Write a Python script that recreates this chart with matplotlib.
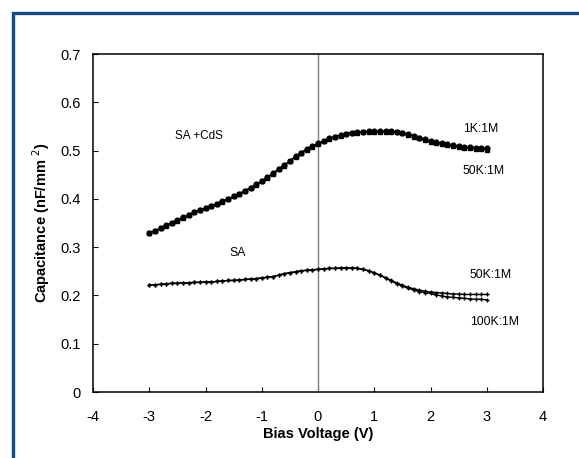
import numpy as np
import matplotlib
matplotlib.use('Agg')
from matplotlib import pyplot as plt
from matplotlib.patches import Rectangle

plt.rcParams['font.family'] = ['Liberation Sans', 'DejaVu Sans']

# bias voltage, -3 V to 3 V in 0.1 V steps
bias = [round(-3.0 + 0.1 * i, 1) for i in range(61)]

# SA+CdS, 1K:1M
cds_1k = [0.330, 0.334, 0.339, 0.345, 0.350, 0.356, 0.362, 0.367, 0.372, 0.377,
          0.381, 0.385, 0.390, 0.395, 0.400, 0.405, 0.411, 0.417, 0.423, 0.430,
          0.437, 0.445, 0.453, 0.462, 0.470, 0.479, 0.488, 0.496, 0.503, 0.509,
          0.515, 0.520, 0.525, 0.529, 0.532, 0.535, 0.537, 0.538, 0.539, 0.540,
          0.540, 0.540, 0.540, 0.540, 0.539, 0.537, 0.534, 0.531, 0.527, 0.523,
          0.520, 0.517, 0.515, 0.513, 0.511, 0.509, 0.508, 0.507, 0.506, 0.506,
          0.505]
# SA+CdS, 50K:1M
cds_50k = [0.329, 0.334, 0.339, 0.344, 0.350, 0.355, 0.361, 0.366, 0.372, 0.376,
           0.381, 0.385, 0.389, 0.394, 0.399, 0.405, 0.410, 0.416, 0.423, 0.429,
           0.436, 0.444, 0.452, 0.461, 0.469, 0.478, 0.487, 0.495, 0.502, 0.508,
           0.514, 0.519, 0.524, 0.528, 0.531, 0.534, 0.536, 0.537, 0.538, 0.539,
           0.539, 0.539, 0.539, 0.539, 0.538, 0.536, 0.533, 0.529, 0.525, 0.521,
           0.518, 0.515, 0.513, 0.511, 0.509, 0.507, 0.506, 0.505, 0.504, 0.503,
           0.502]
# SA, 50K:1M
sa_50k = [0.222, 0.222, 0.223, 0.224, 0.225, 0.225, 0.226, 0.226, 0.227, 0.227,
          0.228, 0.228, 0.229, 0.230, 0.231, 0.231, 0.232, 0.233, 0.234, 0.235,
          0.236, 0.238, 0.239, 0.242, 0.245, 0.247, 0.249, 0.251, 0.252, 0.253,
          0.254, 0.255, 0.256, 0.256, 0.257, 0.257, 0.257, 0.256, 0.254, 0.251,
          0.247, 0.242, 0.237, 0.231, 0.226, 0.221, 0.217, 0.214, 0.211, 0.209,
          0.207, 0.206, 0.205, 0.204, 0.203, 0.203, 0.202, 0.202, 0.202, 0.202,
          0.202]
# SA, 100K:1M
sa_100k = [0.222, 0.222, 0.223, 0.224, 0.225, 0.225, 0.226, 0.226, 0.227, 0.227,
           0.228, 0.228, 0.229, 0.230, 0.231, 0.231, 0.232, 0.233, 0.234, 0.235,
           0.236, 0.238, 0.239, 0.242, 0.245, 0.247, 0.249, 0.251, 0.252, 0.253,
           0.254, 0.255, 0.256, 0.256, 0.257, 0.257, 0.257, 0.256, 0.254, 0.251,
           0.247, 0.242, 0.236, 0.230, 0.224, 0.219, 0.215, 0.211, 0.208, 0.206,
           0.204, 0.201, 0.199, 0.197, 0.196, 0.195, 0.194, 0.193, 0.192, 0.192,
           0.191]

W, H = 579, 458
fig = plt.figure(figsize=(W / 100, H / 100), dpi=100)
# blue frame, right and bottom edges run off the picture
fig.patches.append(Rectangle((13 / W, -0.05), 1.1, 1.05 - 12.5 / H,
                             transform=fig.transFigure, fill=False,
                             edgecolor='#1a4a85', linewidth=2.4))
ax = fig.add_axes([93 / W, (H - 392) / H, 450 / W, 338 / H])

ax.axvline(0, color='#808080', linewidth=1)
ax.plot(bias, cds_1k, color='black', marker='o', markersize=3.4, linewidth=1)
ax.plot(bias, cds_50k, color='black', marker='s', markersize=3.2, linewidth=1)
ax.plot(bias, sa_50k, color='black', marker='+', markersize=3.5, linewidth=1)
ax.plot(bias, sa_100k, color='black', marker='+', markersize=3.5, linewidth=1)

ax.set_xlim(-4, 4)
ax.set_ylim(0, 0.7)
ax.set_xticks(range(-4, 5))
ax.set_xticklabels([str(v) for v in range(-4, 5)])
ax.set_yticks([0, 0.1, 0.2, 0.3, 0.4, 0.5, 0.6, 0.7])
ax.set_yticklabels(['0', '0.1', '0.2', '0.3', '0.4', '0.5', '0.6', '0.7'])
ax.tick_params(direction='in', length=3.5, width=0.8, labelsize=10.5)
ax.tick_params(axis='x', pad=13)
ax.tick_params(axis='y', pad=9)
for s in ax.spines.values():
    s.set_linewidth(1.1)

ax.set_xlabel('Bias Voltage (V)', fontsize=10.5, fontweight='bold', labelpad=2)
ax.set_ylabel('Capacitance (nF/mm $^2$)', fontsize=10.5, fontweight='bold', labelpad=6)

ax.text(-2.55, 0.531, 'SA +CdS', fontsize=8.5, va='center')
ax.text(2.58, 0.544, '1K:1M', fontsize=8.8, va='center')
ax.text(2.57, 0.458, '50K:1M', fontsize=8.8, va='center')
ax.text(-1.57, 0.287, 'SA', fontsize=8.8, va='center')
ax.text(2.70, 0.242, '50K:1M', fontsize=8.8, va='center')
ax.text(2.70, 0.145, '100K:1M', fontsize=8.8, va='center')

fig.savefig('out.png', dpi=100)
